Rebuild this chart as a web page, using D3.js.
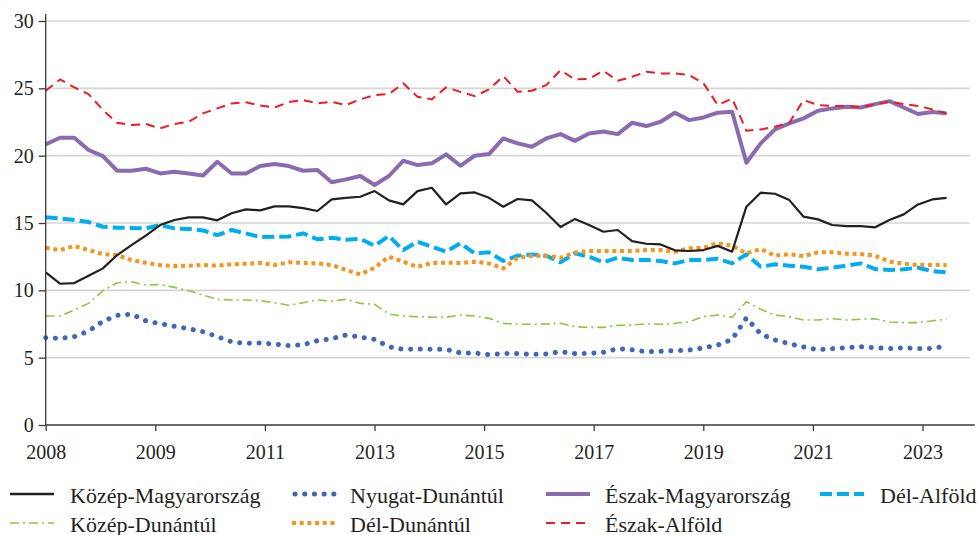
<!DOCTYPE html>
<meta charset="utf-8">
<title>Regional rates</title>
<script src="https://d3js.org/d3.v7.min.js"></script>
<style>
  body { margin: 0; background: #fff; }
  svg text { font-family: "Liberation Serif", "DejaVu Serif", serif; fill: #231f20; }
</style>
<body>
<div id="my_dataviz"></div>
</body>
<script>

    // quarterly categories, 2008 Q1 - 2023 Q4
    var years = d3.range(2008, 2024);
    var quarters = [];
    years.forEach(function(y) { [1, 2, 3, 4].forEach(function(q) { quarters.push(y + "Q" + q); }); });

    // labels under the axis, as printed
    var tickLabels = ["2008", "2009", "2011", "2013", "2015", "2017", "2019", "2021", "2023"];
    var yTicks = [0, 5, 10, 15, 20, 25, 30];

    var kozepMagyarorszag = [11.33,10.49,10.54,11.09,11.63,12.62,13.36,14.06,14.85,15.22,15.42,15.42,15.2,15.72,16.01,15.94,
      16.23,16.23,16.11,15.89,16.75,16.87,16.95,17.37,16.68,16.38,17.37,17.62,16.38,17.2,17.27,16.87,
      16.21,16.78,16.68,15.76,14.7,15.29,14.85,14.35,14.48,13.66,13.46,13.41,12.97,12.92,12.99,13.3,
      12.87,16.21,17.25,17.17,16.7,15.47,15.27,14.85,14.77,14.77,14.68,15.22,15.64,16.38,16.75,16.87];
    var nyugatDunantul = [6.48,6.43,6.56,6.98,7.7,8.14,8.24,7.74,7.52,7.33,7.15,6.93,6.56,6.18,6.06,6.09,
      6.01,5.89,5.96,6.26,6.41,6.68,6.53,6.36,5.81,5.62,5.64,5.62,5.62,5.35,5.35,5.22,
      5.32,5.3,5.25,5.27,5.44,5.3,5.32,5.4,5.67,5.59,5.44,5.47,5.52,5.57,5.72,5.94,
      6.36,7.95,6.76,6.31,6.04,5.79,5.59,5.67,5.74,5.81,5.74,5.67,5.74,5.67,5.69,5.86];
    var eszakMagyarorszag = [20.84,21.33,21.33,20.42,19.97,18.88,18.88,19.03,18.68,18.8,18.68,18.53,19.55,18.68,18.68,19.23,
      19.38,19.23,18.88,18.93,18.02,18.24,18.49,17.82,18.49,19.62,19.3,19.43,20.1,19.25,20.0,20.12,
      21.28,20.91,20.66,21.28,21.6,21.1,21.65,21.8,21.6,22.44,22.2,22.52,23.19,22.64,22.84,23.19,
      23.26,19.47,20.91,21.95,22.4,22.77,23.33,23.51,23.63,23.58,23.83,24.05,23.58,23.09,23.24,23.14];
    var delAlfold = [15.42,15.34,15.22,15.07,14.72,14.65,14.63,14.6,14.85,14.6,14.55,14.45,14.1,14.48,14.23,13.95,
      13.98,14.0,14.23,13.79,13.9,13.76,13.83,13.31,14.03,12.99,13.61,13.24,12.87,13.49,12.74,12.82,
      12.18,12.57,12.67,12.57,12.08,12.75,12.5,12.08,12.42,12.25,12.25,12.18,12.0,12.25,12.25,12.35,
      12.0,12.67,11.75,11.93,11.83,11.75,11.56,11.68,11.83,12.0,11.58,11.51,11.56,11.68,11.43,11.34];
    var kozepDunantul = [8.09,8.09,8.54,9.03,9.97,10.56,10.64,10.39,10.44,10.22,9.97,9.65,9.33,9.28,9.28,9.23,
      9.08,8.89,9.08,9.28,9.2,9.33,9.03,8.96,8.24,8.09,8.04,8.0,8.0,8.17,8.09,7.92,
      7.55,7.48,7.48,7.5,7.55,7.3,7.25,7.25,7.4,7.42,7.52,7.48,7.55,7.67,8.04,8.17,
      8.0,9.15,8.59,8.17,8.04,7.8,7.8,7.89,7.8,7.85,7.89,7.65,7.6,7.6,7.74,7.85];
    var delDunantul = [13.16,12.99,13.29,12.99,12.69,12.62,12.25,12.05,11.88,11.8,11.83,11.88,11.83,11.93,11.98,12.04,
      11.88,12.08,12.03,12.0,11.88,11.51,11.19,11.68,12.5,12.12,11.75,12.03,12.05,12.03,12.12,12.0,
      11.63,12.42,12.57,12.57,12.42,12.8,12.92,12.92,12.92,12.92,12.99,12.99,12.87,13.12,13.16,13.5,
      13.31,12.75,13.07,12.57,12.69,12.55,12.82,12.82,12.72,12.69,12.57,12.12,11.98,11.88,11.88,11.88];
    var eszakAlfold = [24.82,25.66,25.07,24.57,23.39,22.44,22.27,22.35,22.03,22.35,22.52,23.14,23.51,23.88,23.96,23.73,
      23.58,23.98,24.13,23.88,24.0,23.76,24.18,24.5,24.57,25.37,24.37,24.18,25.07,24.74,24.42,24.92,
      25.91,24.74,24.82,25.24,26.35,25.66,25.71,26.3,25.56,25.86,26.23,26.11,26.11,25.98,25.37,23.76,
      24.25,21.85,21.95,22.15,22.44,24.13,23.76,23.69,23.69,23.58,23.83,24.0,23.83,23.69,23.44,23.14];

    var series = [
      {name: "Dél-Alföld", values: delAlfold, color: "#00aeef", width: 4, dash: "12,5", cap: "butt"},
      {name: "Dél-Dunántúl", values: delDunantul, color: "#f7941d", width: 4, dash: "4,3.7", cap: "butt"},
      {name: "Közép-Dunántúl", values: kozepDunantul, color: "#8dc63f", width: 1.6, dash: "9,4,2,4", cap: "butt"},
      {name: "Nyugat-Dunántúl", values: nyugatDunantul, color: "#3f67b5", width: 5, dash: "0.1,9.6", cap: "round"},
      {name: "Észak-Magyarország", values: eszakMagyarorszag, color: "#8b6bb0", width: 4, dash: null, cap: "butt"},
      {name: "Észak-Alföld", values: eszakAlfold, color: "#ed1c24", width: 2, dash: "9,6", cap: "butt"},
      {name: "Közép-Magyarország", values: kozepMagyarorszag, color: "#231f20", width: 2.2, dash: null, cap: "butt"}
    ];

    var legendOrder = [
      ["Közép-Magyarország", "Nyugat-Dunántúl", "Észak-Magyarország", "Dél-Alföld"],
      ["Közép-Dunántúl", "Dél-Dunántúl", "Észak-Alföld"]
    ];

    var margin = {top: 21, right: 4, bottom: 110, left: 45.7},
      width = 979 - margin.left - margin.right,
      height = 535 - margin.top - margin.bottom;

    var svg = d3.select("#my_dataviz")
      .append("svg")
        .attr("width", 979)
        .attr("height", 535)
      .append("g")
        .attr("transform", "translate(" + margin.left + "," + margin.top + ")");

    var x = d3.scalePoint()
      .domain(quarters)
      .range([0, 900.9]);

    var xTicks = d3.scalePoint()
      .domain(tickLabels)
      .range([0, 8 * 109.6]);

    var y = d3.scaleLinear()
      .domain([0, 30])
      .range([height, 0]);

    // gridlines
    svg.append("g")
      .selectAll("line")
      .data(yTicks.filter(function(d) { return d > 0; }))
      .join("line")
        .attr("x1", 0)
        .attr("x2", 924)
        .attr("y1", function(d) { return y(d); })
        .attr("y2", function(d) { return y(d); })
        .attr("stroke", "#d6d6d6")
        .attr("stroke-width", 1.6);

    // lines
    var line = d3.line()
      .x(function(d, i) { return x(quarters[i]); })
      .y(function(d) { return y(d); });

    svg.append("g")
      .selectAll("path")
      .data(series)
      .join("path")
        .attr("d", function(s) { return line(s.values); })
        .attr("fill", "none")
        .attr("stroke", function(s) { return s.color; })
        .attr("stroke-width", function(s) { return s.width; })
        .attr("stroke-dasharray", function(s) { return s.dash; })
        .attr("stroke-linecap", function(s) { return s.cap; })
        .attr("stroke-linejoin", "round");

    // axes
    var xAxis = svg.append("g")
      .attr("transform", "translate(0," + height + ")")
      .call(d3.axisBottom(xTicks).tickSize(6).tickPadding(14));
    xAxis.select(".domain").attr("d", "M0,0H929");

    var yAxis = svg.append("g")
      .call(d3.axisLeft(y).tickValues(yTicks).tickSize(7).tickPadding(5));
    yAxis.select(".domain").attr("d", "M0," + (height) + "V-7");

    svg.selectAll(".domain, .tick line")
      .attr("stroke", "#3a3a3a")
      .attr("stroke-width", 1.3);
    svg.selectAll(".tick text")
      .attr("font-size", "20px")
      .attr("font-family", "Liberation Serif")
      .attr("fill", "#231f20");

    // legend
    var colX = [10, 292, 546, 820];
    var textX = [60, 58, 59, 60];
    var rowY = [494, 523];
    var byName = {};
    series.forEach(function(s) { byName[s.name] = s; });

    var legend = d3.select("svg").append("g");
    legendOrder.forEach(function(row, r) {
      row.forEach(function(name, c) {
        var s = byName[name];
        var g = legend.append("g")
          .attr("transform", "translate(" + colX[c] + "," + rowY[r] + ")");
        g.append("line")
          .attr("x1", s.cap === "round" ? 3 : 0)
          .attr("x2", 44)
          .attr("stroke", s.color)
          .attr("stroke-width", s.width === 2.2 ? 2.4 : s.width)
          .attr("stroke-dasharray", s.dash)
          .attr("stroke-linecap", s.cap);
        g.append("text")
          .attr("x", textX[c])
          .attr("y", 8.5)
          .attr("font-size", "22px")
          .text(name);
      });
    });

</script>
